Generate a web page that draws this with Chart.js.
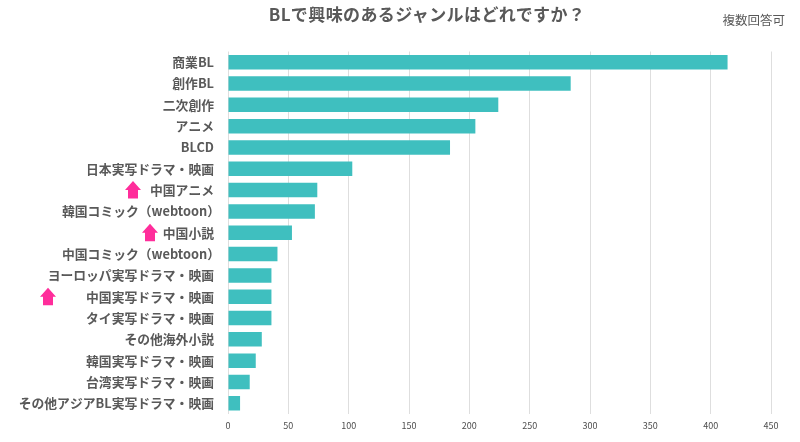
<!DOCTYPE html>
<html lang="ja">
<head>
<meta charset="utf-8">
<script src="https://cdn.jsdelivr.net/npm/chart.js@4"></script>
<style>
  html, body { margin: 0; padding: 0; background: #fff; }
  #wrap { position: relative; width: 800px; height: 442px; font-family: 'Noto Sans CJK JP', sans-serif; }
  #title { position: absolute; left: 0; top: 1px; width: 854px; text-align: center; font-size: 17px; font-weight: 700; color: #595959; letter-spacing: 0.4px; }
  #note { position: absolute; right: 15px; top: 10px; font-size: 12.5px; color: #595959; }
</style>
</head>
<body>
<div id="wrap">
  <canvas id="chart" width="800" height="442"></canvas>
  <div id="title">BLで興味のあるジャンルはどれですか？</div>
  <div id="note">複数回答可</div>
</div>
<script>
const categories = [
  '商業BL', '創作BL', '二次創作', 'アニメ', 'BLCD', '日本実写ドラマ・映画', '中国アニメ',
  '韓国コミック（webtoon）', '中国小説', '中国コミック（webtoon）', 'ヨーロッパ実写ドラマ・映画',
  '中国実写ドラマ・映画', 'タイ実写ドラマ・映画', 'その他海外小説', '韓国実写ドラマ・映画',
  '台湾実写ドラマ・映画', 'その他アジアBL実写ドラマ・映画'
];
const counts = [414, 284, 224, 205, 184, 103, 74, 72, 53, 41, 36, 36, 36, 28, 23, 18, 10];
const risingCategories = ['中国アニメ', '中国小説', '中国実写ドラマ・映画'];

const labelColor = '#595959';
const labelFont = "700 12.8px 'Noto Sans CJK JP', sans-serif";

// Pink arrows left of the labels
const arrowPlugin = {
  id: 'arrows',
  afterDraw(chart) {
    const ctx = chart.ctx;
    const yScale = chart.scales.y;
    const arrowX = { '中国アニメ': 133, '中国小説': 150, '中国実写ドラマ・映画': 48 };
    ctx.save();
    ctx.fillStyle = '#ff2d9b';
    risingCategories.forEach(name => {
      const x = arrowX[name];
      const y = yScale.getPixelForValue(categories.indexOf(name));
      ctx.beginPath();
      ctx.moveTo(x, y - 9);
      ctx.lineTo(x + 8, y);
      ctx.lineTo(x + 5, y);
      ctx.lineTo(x + 5, y + 8.5);
      ctx.lineTo(x - 5, y + 8.5);
      ctx.lineTo(x - 5, y);
      ctx.lineTo(x - 8, y);
      ctx.closePath();
      ctx.fill();
    });
    ctx.restore();
  }
};

// The closing full-width bracket leaves a blank half em, so these labels are drawn further right
const bracketLabelPlugin = {
  id: 'bracketLabels',
  afterDraw(chart) {
    const ctx = chart.ctx;
    const yScale = chart.scales.y;
    ctx.save();
    ctx.font = labelFont;
    ctx.fillStyle = labelColor;
    ctx.textAlign = 'right';
    ctx.textBaseline = 'middle';
    categories.forEach((name, i) => {
      if (name.endsWith('）')) {
        ctx.fillText(name, yScale.right - 8, yScale.getPixelForValue(i));
      }
    });
    ctx.restore();
  }
};

new Chart(document.getElementById('chart').getContext('2d'), {
  type: 'bar',
  data: {
    labels: categories,
    datasets: [{
      data: counts,
      backgroundColor: '#3fbfbf',
      barPercentage: 0.68,
      categoryPercentage: 1
    }]
  },
  options: {
    indexAxis: 'y',
    responsive: false,
    animation: false,
    layout: { padding: { top: 51.5, right: 29, bottom: 0, left: 0 } },
    plugins: {
      legend: { display: false },
      tooltip: { enabled: false }
    },
    scales: {
      x: {
        min: 0,
        max: 450,
        afterFit(scale) { scale.height = 28; },
        grid: { color: '#dedede', drawTicks: false },
        border: { display: false },
        ticks: {
          stepSize: 50,
          padding: 6,
          color: '#4d4d4d',
          font: { family: "'Noto Sans CJK JP', sans-serif", size: 9 }
        }
      },
      y: {
        afterFit(scale) { scale.width = 228; },
        grid: { display: false },
        border: { display: false },
        ticks: {
          autoSkip: false,
          padding: 6,
          color: ctx => categories[ctx.index].endsWith('）') ? 'transparent' : labelColor,
          font: { family: "'Noto Sans CJK JP', sans-serif", size: 12.8, weight: '700' }
        }
      }
    }
  },
  plugins: [arrowPlugin, bracketLabelPlugin]
});
</script>
</body>
</html>
